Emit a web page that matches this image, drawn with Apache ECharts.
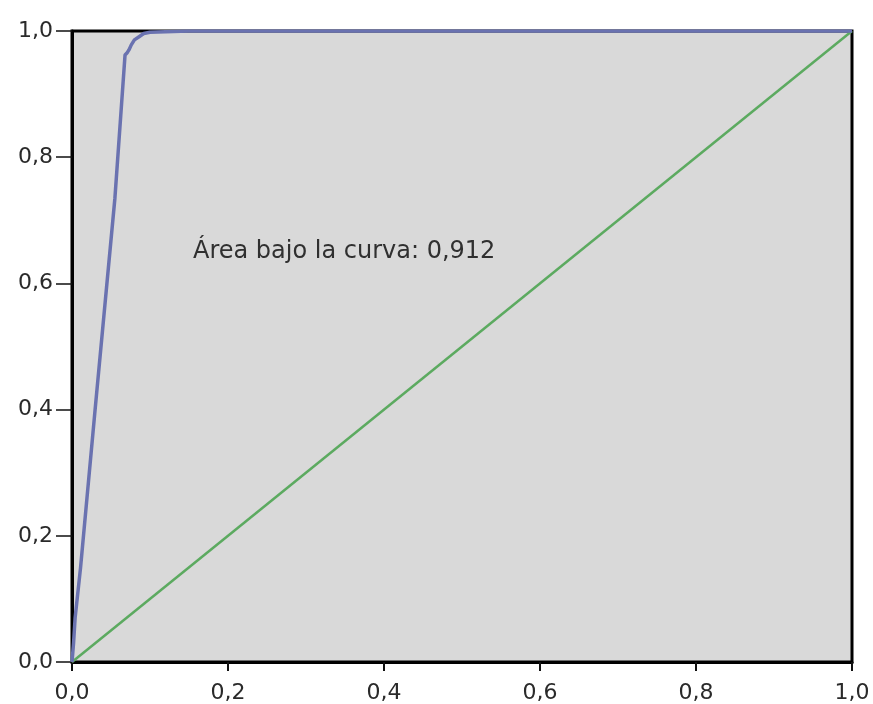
<!DOCTYPE html>
<html>
<head>
<meta charset="utf-8">
<script src="https://cdn.jsdelivr.net/npm/echarts@6/dist/echarts.min.js"></script>
<style>html,body{margin:0;padding:0;background:#fff;}#c{width:873px;height:704px;}</style>
</head>
<body>
<div id="c"></div>
<script>
// ROC curve points (1 - specificity, sensitivity)
const rocX = [0, 0.002, 0.004, 0.011, 0.030, 0.055, 0.068, 0.071, 0.073, 0.076, 0.080, 0.086, 0.092, 0.100, 0.150, 1.0];
const rocY = [0, 0.030, 0.070, 0.150, 0.405, 0.735, 0.962, 0.966, 0.970, 0.978, 0.986, 0.991, 0.996, 0.998, 1.000, 1.0];
// Reference (chance) line
const refX = [0, 1];
const refY = [0, 1];
const tickValues = [0, 0.2, 0.4, 0.6, 0.8, 1.0];
const annotation = 'Área bajo la curva: 0,912';

const chart = echarts.init(document.getElementById('c'));
const fmt = v => v.toFixed(1).replace('.', ',');
const font = 'DejaVu Sans, Verdana, sans-serif';
chart.setOption({
  animation: false,
  backgroundColor: '#fff',
  grid: { left: 72, right: 21, top: 31, bottom: 42, show: true, backgroundColor: '#d9d9d9', borderColor: '#000', borderWidth: 3 },
  xAxis: {
    type: 'value', min: 0, max: 1, interval: 0.2,
    axisLine: { show: true, lineStyle: { color: '#000', width: 3 } },
    axisTick: { show: true, length: 9, lineStyle: { color: '#111', width: 2 } },
    axisLabel: { formatter: fmt, fontFamily: font, fontSize: 22, color: '#2a2a2a', margin: 20 },
    splitLine: { show: false }
  },
  yAxis: {
    type: 'value', min: 0, max: 1, interval: 0.2,
    axisLine: { show: true, lineStyle: { color: '#000', width: 3 } },
    axisTick: { show: true, length: 16, lineStyle: { color: '#111', width: 1.5 } },
    axisLabel: { formatter: fmt, fontFamily: font, fontSize: 22, color: '#2a2a2a', margin: 19 },
    splitLine: { show: false }
  },
  series: [
    {
      type: 'line', data: refX.map((x, i) => [x, refY[i]]), symbol: 'none',
      lineStyle: { color: '#5caa60', width: 2.5 }, z: 3
    },
    {
      type: 'line', data: rocX.map((x, i) => [x, rocY[i]]), symbol: 'none',
      lineStyle: { color: '#6a72b0', width: 3.5 }, z: 4
    }
  ],
  graphic: [{
    type: 'text', left: 193, top: 240,
    style: { text: annotation, fontFamily: font, fontSize: 24, fill: '#303030' }
  }]
});
</script>
</body>
</html>
